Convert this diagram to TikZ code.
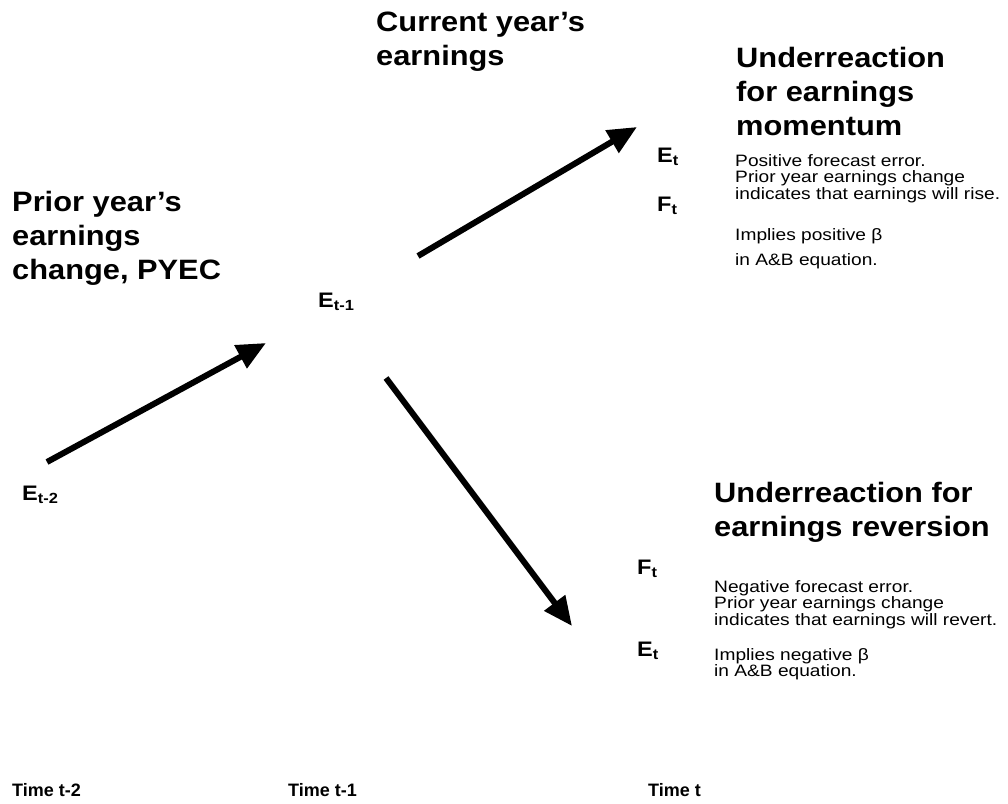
\documentclass[tikz,border=0pt]{standalone}
\usepackage{fontspec}
\setmainfont{Liberation Sans}
\usetikzlibrary{arrows.meta,positioning}
\tikzstyle{bigarrow} = [draw, line width=6pt, color=black, -{Triangle[length=29pt,width=25pt]}]
\tikzstyle{head} = [anchor=north west, inner sep=0pt, align=left, xscale=1.1, font=\bfseries\fontsize{28}{34}\selectfont]
\tikzstyle{body} = [anchor=north west, inner sep=0pt, align=left, xscale=1.16, font=\fontsize{16.5}{16.5}\selectfont]
\tikzstyle{lbl} = [anchor=north west, inner sep=0pt, xscale=1.12, font=\bfseries\fontsize{21}{21}\selectfont]
\tikzstyle{timelbl} = [anchor=north west, inner sep=0pt, font=\bfseries\fontsize{18}{18}\selectfont]

\begin{document}
\begin{tikzpicture} [x=1pt, y=-1pt]

  \useasboundingbox (0,0) rectangle (1008,803);

  % headings
  \node[head] (curhead) at (376,12) {Current year’s\\earnings};
  \node[head] (pyec) at (12,191) {Prior year’s\\earnings\\change, PYEC};
  \node[head] (momhead) at (736,47) {Underreaction\\for earnings\\momentum};
  \node[head] (revhead) at (714,482) {Underreaction for\\earnings reversion};

  % earnings labels
  \node[lbl] (etwo) at (22,486) {E\textsubscript{t-2}};
  \node[lbl] (eone) at (318,293) {E\textsubscript{t-1}};
  \node[lbl] (etup) at (657,148) {E\textsubscript{t}};
  \node[lbl] (ftup) at (657,197) {F\textsubscript{t}};
  \node[lbl] (ftdown) at (637,560) {F\textsubscript{t}};
  \node[lbl] (etdown) at (637,642) {E\textsubscript{t}};

  % explanations
  \node[body] (momtext) at (735,154) {Positive forecast error.\\Prior year earnings change\\indicates that earnings will rise.};
  \node[body, font=\fontsize{16.5}{25}\selectfont] (momimp) at (735,228) {Implies positive β\\in A\&B equation.};
  \node[body] (revtext) at (714,580) {Negative forecast error.\\Prior year earnings change\\indicates that earnings will revert.};
  \node[body] (revimp) at (714,648) {Implies negative β\\in A\&B equation.};

  % time axis
  \node[timelbl] (ttwo) at (12,783) {Time t-2};
  \node[timelbl] (tone) at (288,783) {Time t-1};
  \node[timelbl] (tnow) at (648,783) {Time t};

  % arrows
  \coordinate (a1s) at (47,462);
  \coordinate (a1e) at (266,343);
  \coordinate (a2s) at (418,256);
  \coordinate (a2e) at (637,127);
  \coordinate (a3s) at (386,378);
  \coordinate (a3e) at (572,626);
  \path[bigarrow] (a1s) -- (a1e);
  \path[bigarrow] (a2s) -- (a2e);
  \path[bigarrow] (a3s) -- (a3e);

\end{tikzpicture}
\end{document}
